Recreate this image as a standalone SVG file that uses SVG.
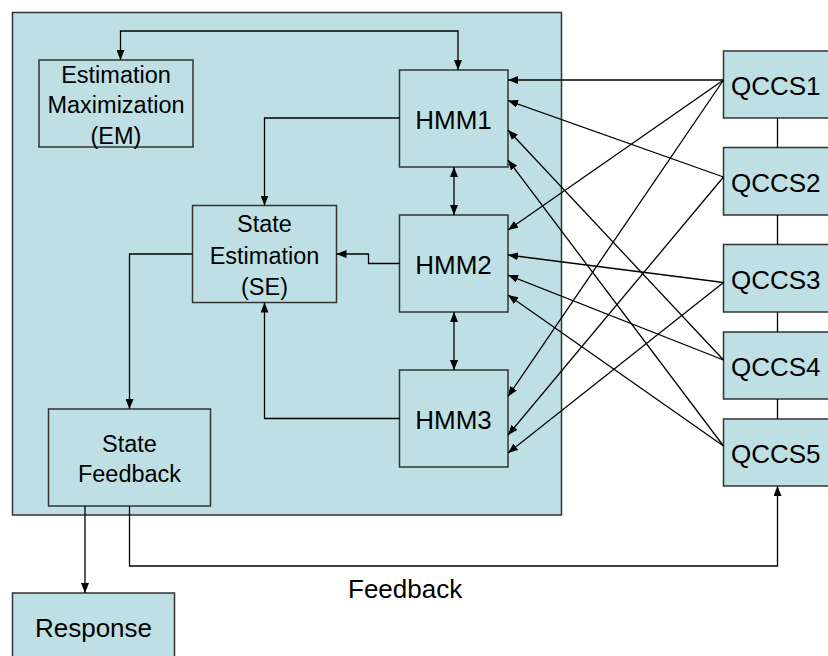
<svg xmlns="http://www.w3.org/2000/svg" width="828" height="656" viewBox="0 0 828 656">
<defs>
<marker id="ah" markerUnits="userSpaceOnUse" markerWidth="10" markerHeight="8" refX="10" refY="4" orient="auto-start-reverse">
<path d="M0,0 L10,4 L0,8 z" fill="#000"/>
</marker>
<style>
.box{fill:#BEE0E4;stroke:#333;stroke-width:1.5}
.t{font-family:"Liberation Sans",Arial,sans-serif;fill:#000}
.s{font-size:23.5px;text-anchor:middle}
.l{font-size:26px}
.c{text-anchor:middle}
.ln{fill:none;stroke:#000;stroke-width:1.3}
.a{marker-end:url(#ah)}
.b{marker-start:url(#ah);marker-end:url(#ah)}
</style>
</defs>
<rect width="828" height="656" fill="#fff"/>
<g id="container"><rect class="box" x="12.5" y="12.5" width="549" height="502.5"/></g>
<g id="em"><rect class="box" x="39" y="60" width="154" height="87"/>
<text class="t s" x="116" y="83">Estimation</text><text class="t s" x="116" y="113">Maximization</text><text class="t s" x="116" y="144">(EM)</text></g>
<g id="se"><rect class="box" x="192.5" y="205.5" width="144" height="97"/>
<text class="t s" x="264.5" y="232">State</text><text class="t s" x="264.5" y="264">Estimation</text><text class="t s" x="264.5" y="295">(SE)</text></g>
<g id="sf"><rect class="box" x="48.5" y="409" width="162" height="97"/>
<text class="t s" x="129.5" y="452">State</text><text class="t s" x="129.5" y="482">Feedback</text></g>
<g id="hmm1"><rect class="box" x="399.5" y="70" width="108.5" height="97"/><text class="t l c" x="453.5" y="129">HMM1</text></g>
<g id="hmm2"><rect class="box" x="399.5" y="215" width="108.5" height="97"/><text class="t l c" x="453.5" y="274">HMM2</text></g>
<g id="hmm3"><rect class="box" x="399.5" y="370" width="108.5" height="97"/><text class="t l c" x="453.5" y="429">HMM3</text></g>
<g id="qccs1"><rect class="box" x="723.5" y="51" width="112" height="67"/><text class="t l" x="731" y="95">QCCS1</text></g>
<g id="qccs2"><rect class="box" x="723.5" y="147.5" width="112" height="67.5"/><text class="t l" x="731" y="192">QCCS2</text></g>
<g id="qccs3"><rect class="box" x="723.5" y="244.5" width="112" height="67.5"/><text class="t l" x="731" y="289">QCCS3</text></g>
<g id="qccs4"><rect class="box" x="723.5" y="332" width="112" height="67"/><text class="t l" x="731" y="376">QCCS4</text></g>
<g id="qccs5"><rect class="box" x="723.5" y="419" width="112" height="67"/><text class="t l" x="731" y="463">QCCS5</text></g>
<g id="response"><rect class="box" x="12.5" y="593" width="162" height="70"/><text class="t l c" x="93.5" y="637">Response</text></g>
<text class="t l" x="348" y="598">Feedback</text>
<g id="connectors">
<path class="ln b" d="M458,70 V31 H120.5 V60"/>
<path class="ln a" d="M399.5,118 H264.5 V205.5"/>
<path class="ln a" d="M399.5,263.5 H368.5 V254 H336.5"/>
<path class="ln a" d="M192.5,254 H129.5 V409"/>
<path class="ln a" d="M399.5,418.5 H264.5 V302.5"/>
<path class="ln b" d="M454,167 V215"/>
<path class="ln b" d="M454,312 V370"/>
<path class="ln a" d="M85,506 V593"/>
<path class="ln a" d="M129.5,506 V566 H777.5 V486"/>
<path class="ln" d="M777.5,118 V147.5 M777.5,215 V244.5 M777.5,312 V332 M777.5,399 V419"/>
<path class="ln a" d="M723.5,80 L508,80"/>
<path class="ln a" d="M723.5,80 L508,230"/>
<path class="ln a" d="M723.5,80 L508,396.5"/>
<path class="ln a" d="M723.5,177 L508,100.5"/>
<path class="ln a" d="M723.5,177 L508,435"/>
<path class="ln a" d="M723.5,282.5 L508,255"/>
<path class="ln a" d="M723.5,282.5 L508,453"/>
<path class="ln a" d="M723.5,360 L508,130"/>
<path class="ln a" d="M723.5,360 L508,275"/>
<path class="ln a" d="M723.5,446 L508,160"/>
<path class="ln a" d="M723.5,446 L508,295"/>
</g>
</svg>
